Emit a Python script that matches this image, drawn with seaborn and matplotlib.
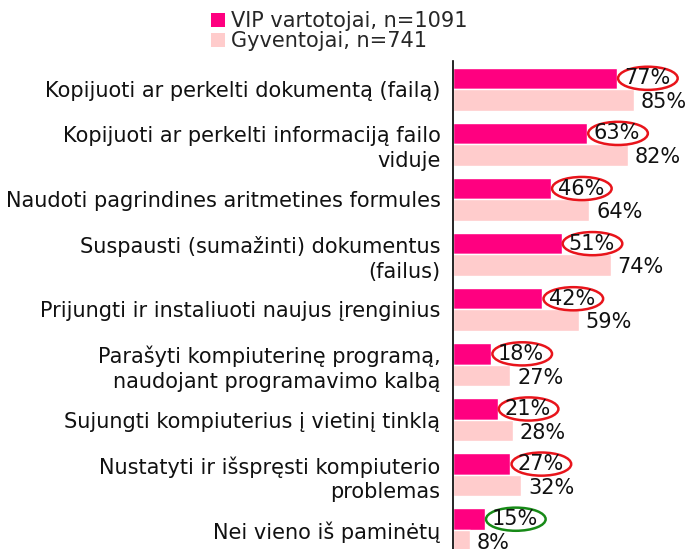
import matplotlib
matplotlib.use("Agg")
import matplotlib.pyplot as plt
from matplotlib.patches import Ellipse, Patch
import seaborn as sns
import pandas as pd

categories = [
    "Kopijuoti ar perkelti dokumentą (failą)",
    "Kopijuoti ar perkelti informaciją failo\nviduje",
    "Naudoti pagrindines aritmetines formules",
    "Suspausti (sumažinti) dokumentus\n(failus)",
    "Prijungti ir instaliuoti naujus įrenginius",
    "Parašyti kompiuterinę programą,\nnaudojant programavimo kalbą",
    "Sujungti kompiuterius į vietinį tinklą",
    "Nustatyti ir išspręsti kompiuterio\nproblemas",
    "Nei vieno iš paminėtų",
]
vip = [77, 63, 46, 51, 42, 18, 21, 27, 15]
gyv = [85, 82, 64, 74, 59, 27, 28, 32, 8]
series = ["VIP vartotojai, n=1091", "Gyventojai, n=741"]
colors = ["#ff0080", "#ffcccc"]
# last ring is green, the rest red
ring_colors = ["#e8141b"] * 8 + ["#178a17"]

df = pd.DataFrame({
    "cat": categories * 2,
    "val": vip + gyv,
    "grp": [series[0]] * len(vip) + [series[1]] * len(gyv),
})

sns.set_style("white")
plt.rcParams["font.family"] = ["DejaVu Sans"]

fig = plt.figure(figsize=(6.93, 5.49), dpi=100)
ax = fig.add_axes([453 / 693, -0.0155, 240 / 693, 0.9035])
sns.barplot(data=df, x="val", y="cat", hue="grp", palette=colors,
            width=0.78, orient="h", ax=ax, legend=False, saturation=1)

ax.set_xlim(0, 112.7)
ax.set_ylim(8.5, -0.5)
ax.set_xlabel("")
ax.set_ylabel("")
ax.set_xticks([])
for s in ["top", "right", "bottom"]:
    ax.spines[s].set_visible(False)
ax.spines["left"].set_color("black")
ax.spines["left"].set_linewidth(1.2)
ax.tick_params(axis="y", length=0, pad=9, labelsize=15, labelcolor="#111111")
for lbl in ax.get_yticklabels():
    lbl.set_multialignment("right")
    lbl.set_linespacing(1.3)

off = 0.195
for i in range(len(categories)):
    ax.text(vip[i] + 3.2, i - off, f"{vip[i]}%", va="center", ha="left",
            fontsize=15, color="#111111")
    ax.text(gyv[i] + 3.2, i + off + 0.04, f"{gyv[i]}%", va="center", ha="left",
            fontsize=15, color="#111111")
    ax.add_patch(Ellipse((vip[i] + 14.5, i - off), 28, 0.42, fill=False,
                         edgecolor=ring_colors[i], linewidth=1.8, clip_on=False))

handles = [Patch(facecolor=c, edgecolor="none") for c in colors]
fig.legend(handles, series, loc="upper left", bbox_to_anchor=(211 / 693, 1 - 11 / 549),
           frameon=False, fontsize=15, handlelength=0.65, handleheight=0.65,
           handletextpad=0.3, labelspacing=0.0, borderpad=0, borderaxespad=0)

fig.savefig("out.png", dpi=100)
